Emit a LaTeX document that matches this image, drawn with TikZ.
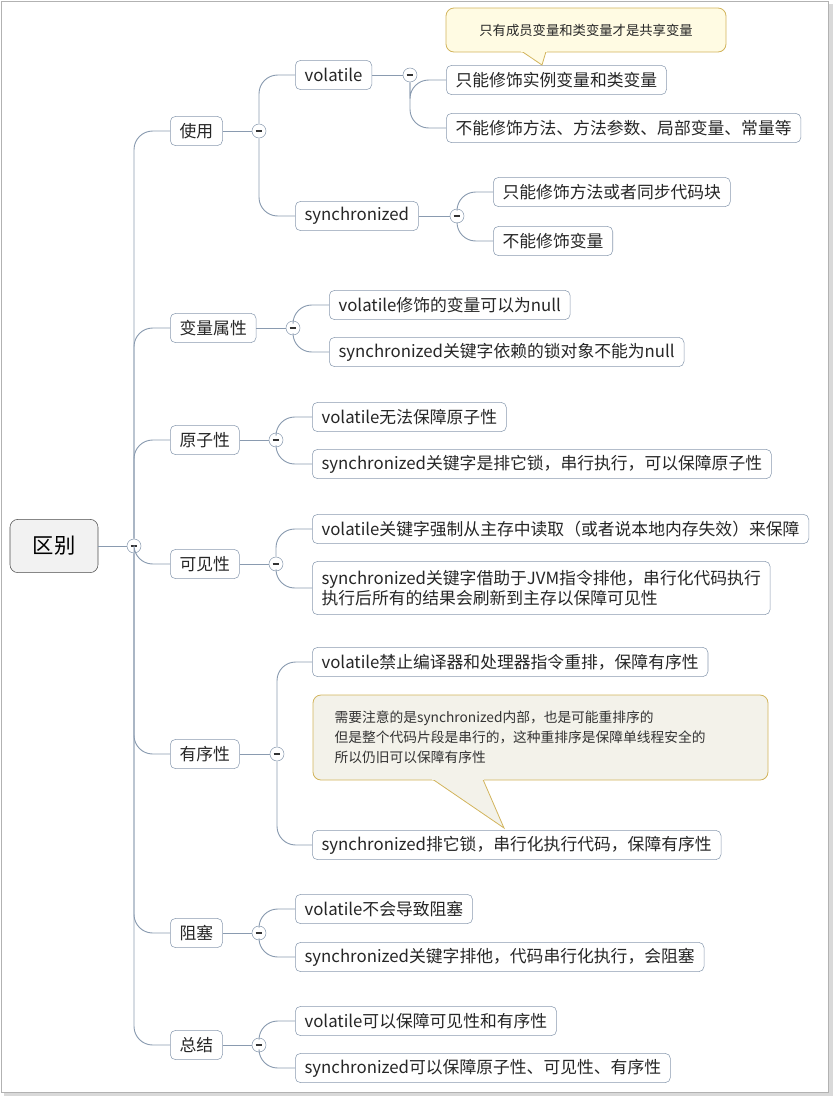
\documentclass[tikz,border=0pt]{standalone}
\usepackage{fontspec}
\setmainfont{Noto Sans CJK SC}
\usetikzlibrary{calc}
\definecolor{linegray}{HTML}{8A9BB0}
\definecolor{notefill}{HTML}{F3F2EA}
\definecolor{noteline}{HTML}{D2B45C}
\definecolor{topfill}{HTML}{FFFBE3}
\tikzset{
	topic/.style={draw=linegray, rounded corners=4pt, fill=white, anchor=west, minimum height=22pt, inner xsep=7pt, font=\fontsize{12.6}{15}\selectfont, text=black!85},
	fold/.style={circle, draw=linegray, fill=white, minimum size=10.5pt, inner sep=0pt,
		path picture={\draw[black!80, line width=0.9pt] ([xshift=-2.6pt]path picture bounding box.center) -- ([xshift=2.6pt]path picture bounding box.center);}},
	link/.style={draw=linegray, line width=0.7pt, rounded corners=14pt},
	note/.style={draw=noteline, fill=notefill, rounded corners=6pt, line width=0.6pt},
}
\begin{document}
\begin{tikzpicture}[x=0.75pt, y=-0.75pt]
	\useasboundingbox (0,0) rectangle (834,1097);
	%Frame
	\draw[gray!60] (1,1) rectangle (828,1092);
	\fill[gray!30] (829,4) rectangle (833,1096);
	\fill[gray!30] (4,1093) rectangle (833,1096);

	%Root
	\node[draw=black!70, fill=black!5, rounded corners=6pt, minimum width=66pt, minimum height=40pt, font=\fontsize{16}{18}\selectfont] (root) at (54,546) {区别};
	\node[fold] (rootf) at (134,546) {};
	\draw[link] (root.east) -- (rootf);

	%Level 1
	\node[topic] (use) at (170,131) {使用};
	\node[topic] (attr) at (170,328) {变量属性};
	\node[topic] (atom) at (170,440) {原子性};
	\node[topic] (vis) at (170,564) {可见性};
	\node[topic] (order) at (170,754) {有序性};
	\node[topic] (block) at (170,933) {阻塞};
	\node[topic] (sum) at (170,1045) {总结};
	\foreach \n in {use,attr,atom,vis,order,block,sum}
		\draw[link] (rootf) |- (\n.west);

	%使用
	\node[fold] (usef) at (259,131) {};
	\draw[link] (use.east) -- (usef);
	\node[topic] (vol) at (295,75) {volatile};
	\node[topic] (syn) at (295,216) {synchronized};
	\draw[link] (usef) |- (vol.west);
	\draw[link] (usef) |- (syn.west);

	\node[fold] (volf) at (410,75) {};
	\draw[link] (vol.east) -- (volf);
	\node[topic] (vola) at (446,80) {只能修饰实例变量和类变量};
	\node[topic] (volb) at (446,128) {不能修饰方法、方法参数、局部变量、常量等};
	\draw[link] (volf) |- (vola.west);
	\draw[link] (volf) |- (volb.west);

	%Callout over vola
	\draw[noteline, fill=topfill, line width=0.6pt, rounded corners=6pt] (446,8) rectangle (726,52);
	\draw[noteline, fill=topfill, line width=0.6pt] (522,51.5) -- (542,65) -- (546,51.5);
	\fill[topfill] (521,50) rectangle (547,52.4);
	\node[font=\fontsize{10}{12}\selectfont, text=black!85] (topnote) at (586,30) {只有成员变量和类变量才是共享变量};

	\node[fold] (synf) at (457,216) {};
	\draw[link] (syn.east) -- (synf);
	\node[topic] (syna) at (493,192) {只能修饰方法或者同步代码块};
	\node[topic] (synb) at (493,241) {不能修饰变量};
	\draw[link] (synf) |- (syna.west);
	\draw[link] (synf) |- (synb.west);

	%变量属性
	\node[fold] (attrf) at (293,328) {};
	\draw[link] (attr.east) -- (attrf);
	\node[topic] (attra) at (329,305) {volatile修饰的变量可以为null};
	\node[topic] (attrb) at (329,352) {synchronized关键字依赖的锁对象不能为null};
	\draw[link] (attrf) |- (attra.west);
	\draw[link] (attrf) |- (attrb.west);

	%原子性
	\node[fold] (atomf) at (276,440) {};
	\draw[link] (atom.east) -- (atomf);
	\node[topic] (atoma) at (312,417) {volatile无法保障原子性};
	\node[topic] (atomb) at (312,464) {synchronized关键字是排它锁，串行执行，可以保障原子性};
	\draw[link] (atomf) |- (atoma.west);
	\draw[link] (atomf) |- (atomb.west);

	%可见性
	\node[fold] (visf) at (276,564) {};
	\draw[link] (vis.east) -- (visf);
	\node[topic] (visa) at (312,529) {volatile关键字强制从主存中读取（或者说本地内存失效）来保障};
	\node[topic, align=left, minimum height=40pt] (visb) at (312,588) {synchronized关键字借助于JVM指令排他，串行化代码执行\\执行后所有的结果会刷新到主存以保障可见性};
	\draw[link] (visf) |- (visa.west);
	\draw[link] (visf) |- (visb.west);

	%有序性
	\node[fold] (orderf) at (277,754) {};
	\draw[link] (order.east) -- (orderf);
	\node[topic] (ordera) at (312,662) {volatile禁止编译器和处理器指令重排，保障有序性};
	\node[topic] (orderb) at (312,845) {synchronized排它锁，串行化执行代码，保障有序性};
	\draw[link] (orderf) |- (ordera.west);
	\draw[link] (orderf) |- (orderb.west);

	%Callout over orderb
	\draw[note] (313,695) rectangle (768,780);
	\draw[noteline, fill=notefill, line width=0.6pt] (433,779.5) -- (504,828) -- (483,779.5);
	\fill[notefill] (432,778) rectangle (484,780.4);
	\node[font=\fontsize{10.3}{15}\selectfont, text=black!80, align=left, anchor=north west] (ordernote) at (330,706) {需要注意的是synchronized内部，也是可能重排序的\\但是整个代码片段是串行的，这种重排序是保障单线程安全的\\所以仍旧可以保障有序性};

	%阻塞
	\node[fold] (blockf) at (259,933) {};
	\draw[link] (block.east) -- (blockf);
	\node[topic] (blocka) at (295,909) {volatile不会导致阻塞};
	\node[topic] (blockb) at (295,957) {synchronized关键字排他，代码串行化执行，会阻塞};
	\draw[link] (blockf) |- (blocka.west);
	\draw[link] (blockf) |- (blockb.west);

	%总结
	\node[fold] (sumf) at (259,1045) {};
	\draw[link] (sum.east) -- (sumf);
	\node[topic] (suma) at (295,1021) {volatile可以保障可见性和有序性};
	\node[topic] (sumb) at (295,1068) {synchronized可以保障原子性、可见性、有序性};
	\draw[link] (sumf) |- (suma.west);
	\draw[link] (sumf) |- (sumb.west);
\end{tikzpicture}
\end{document}
